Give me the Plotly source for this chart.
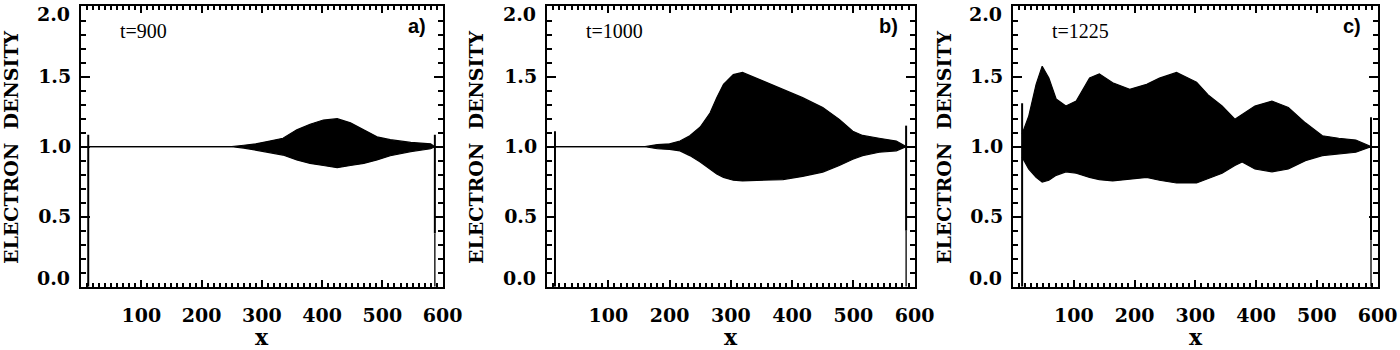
import plotly.graph_objects as go

# ---- data ----
x_a = [12, 250, 270, 290, 313, 335, 358, 380, 402, 425, 447, 469, 491, 513, 547, 580, 587, 600]
upper_a = [1.0, 1.0, 1.01, 1.02, 1.04, 1.06, 1.12, 1.16, 1.19, 1.20, 1.17, 1.12, 1.07, 1.05, 1.03, 1.02, 1.0, 1.0]
lower_a = [1.0, 1.0, 0.99, 0.975, 0.96, 0.94, 0.905, 0.88, 0.865, 0.85, 0.865, 0.88, 0.905, 0.935, 0.965, 0.985, 1.0, 1.0]

x_b = [13, 160, 180, 200, 217, 233, 250, 266, 277, 288, 304, 319, 352, 385, 417, 450, 477, 499, 515, 542, 570, 586, 600]
upper_b = [1.0, 1.0, 1.015, 1.02, 1.04, 1.078, 1.14, 1.24, 1.35, 1.445, 1.515, 1.53, 1.47, 1.41, 1.35, 1.28, 1.195, 1.11, 1.08, 1.06, 1.04, 1.0, 1.0]
lower_b = [1.0, 1.0, 0.985, 0.98, 0.97, 0.936, 0.89, 0.84, 0.805, 0.78, 0.76, 0.755, 0.76, 0.765, 0.787, 0.818, 0.865, 0.91, 0.936, 0.96, 0.97, 1.0, 1.0]

x_c = [15, 26, 38, 48, 59, 71, 87, 104, 126, 142, 164, 192, 220, 241, 269, 302, 321, 344, 365, 377, 398, 426, 453, 481, 509, 536, 564, 589, 600]
upper_c = [1.09, 1.22, 1.445, 1.575, 1.49, 1.34, 1.29, 1.326, 1.49, 1.52, 1.456, 1.41, 1.445, 1.49, 1.53, 1.46, 1.37, 1.29, 1.196, 1.23, 1.29, 1.326, 1.28, 1.17, 1.078, 1.06, 1.047, 1.0, 1.0]
lower_c = [0.925, 0.84, 0.78, 0.747, 0.76, 0.795, 0.82, 0.81, 0.78, 0.764, 0.755, 0.77, 0.78, 0.76, 0.74, 0.74, 0.77, 0.81, 0.865, 0.89, 0.84, 0.82, 0.84, 0.90, 0.936, 0.948, 0.96, 1.0, 1.0]

# boundary spikes (left and right edges of the plasma)
left_x = [12, 13, 15]
left_top = [1.085, 1.11, 1.31]
right_x = [587, 586, 589]
right_top = [1.085, 1.15, 1.21]
right_mid = [0.38, 0.40, 0.33]

times = ["t=900", "t=1000", "t=1225"]
panel_tags = ["a)", "b)", "c)"]
x_ticks = [100, 200, 300, 400, 500, 600]
y_ticks = [0.0, 0.5, 1.0, 1.5, 2.0]
y_ticklabels = ["", "0.5", "1.0", "1.5", ""]   # end labels drawn IDL-style, inset
y_end_labels = ["0.0", "2.0"]

W, H = 1400, 350
def px(xp):
    return xp / W
def py(yp):
    return 1 - yp / H

panels_px = [(81, 443), (547, 915), (1013, 1378)]
top_px, bot_px = 6, 287
ytitle_px = [11, 476, 944]

fig = go.Figure()
data = [(x_a, upper_a, lower_a), (x_b, upper_b, lower_b), (x_c, upper_c, lower_c)]
serif = "DejaVu Serif"
tick_font = dict(family=serif, size=19, color="black", weight="bold")

for i, (xs, up, lo) in enumerate(data):
    sfx = "" if i == 0 else str(i + 1)
    xa, ya = "x" + sfx, "y" + sfx
    fig.add_trace(go.Scatter(x=xs, y=lo, mode="lines", line=dict(color="black", width=1.2),
                             xaxis=xa, yaxis=ya, showlegend=False, hoverinfo="skip"))
    fig.add_trace(go.Scatter(x=xs, y=up, mode="lines", line=dict(color="black", width=1.2),
                             fill="tonexty", fillcolor="black",
                             xaxis=xa, yaxis=ya, showlegend=False, hoverinfo="skip"))
    fig.add_trace(go.Scatter(x=[left_x[i], left_x[i]], y=[0, left_top[i]], mode="lines",
                             line=dict(color="black", width=2), xaxis=xa, yaxis=ya,
                             showlegend=False, hoverinfo="skip"))
    fig.add_trace(go.Scatter(x=[right_x[i], right_x[i]], y=[0, right_mid[i]], mode="lines",
                             line=dict(color="black", width=1.3), xaxis=xa, yaxis=ya,
                             showlegend=False, hoverinfo="skip"))
    fig.add_trace(go.Scatter(x=[right_x[i], right_x[i]], y=[right_mid[i], right_top[i]], mode="lines",
                             line=dict(color="black", width=2), xaxis=xa, yaxis=ya,
                             showlegend=False, hoverinfo="skip"))

    x0, x1 = panels_px[i]
    dom_x = [px(x0), px(x1)]
    dom_y = [py(bot_px), py(top_px)]
    common = dict(showgrid=False, zeroline=False, showline=True, linecolor="black", linewidth=2,
                  mirror="allticks", ticks="inside", tickcolor="black", tickwidth=2,
                  ticklabeloverflow="allow", layer="above traces", automargin=False)
    fig.layout["xaxis" + sfx] = dict(
        domain=dom_x, range=[0, 600.5], anchor=ya, tickmode="array", tickvals=x_ticks, ticklen=7,
        tickfont=tick_font, ticklabelstandoff=10,
        minor=dict(tickmode="linear", tick0=0, dtick=10, ticklen=4, ticks="inside",
                   tickcolor="black", tickwidth=1.5, showgrid=False),
        **common)
    fig.layout["yaxis" + sfx] = dict(
        domain=dom_y, range=[-0.003, 2.005], anchor=xa, tickmode="array", tickvals=y_ticks,
        ticktext=y_ticklabels, ticklen=9,
        tickfont=tick_font, ticklabelstandoff=4,
        minor=dict(tickmode="linear", tick0=0, dtick=0.1, ticklen=5, ticks="inside",
                   tickcolor="black", tickwidth=1.5, showgrid=False),
        **common)

    fig.add_annotation(x=px(x0 - 9), y=py(278), xref="paper", yref="paper",
                       text=y_end_labels[0], showarrow=False, xanchor="right", yanchor="middle",
                       font=tick_font)
    fig.add_annotation(x=px(x0 - 9), y=py(14), xref="paper", yref="paper",
                       text=y_end_labels[1], showarrow=False, xanchor="right", yanchor="middle",
                       font=tick_font)

    fig.add_annotation(x=px(x0 + 37), y=py(31), xref="paper", yref="paper",
                       text=times[i], showarrow=False, xanchor="left", yanchor="middle",
                       font=dict(family="Liberation Serif", size=20, color="black"))
    fig.add_annotation(x=px(x1 - 15), y=py(26), xref="paper", yref="paper",
                       text=panel_tags[i], showarrow=False, xanchor="right", yanchor="middle",
                       font=dict(family="Liberation Sans", size=20, color="black", weight="bold"))
    fig.add_annotation(x=px(ytitle_px[i]), y=py(147), xref="paper", yref="paper",
                       text="ELECTRON  DENSITY", showarrow=False, textangle=-90,
                       xanchor="center", yanchor="middle",
                       font=dict(family=serif, size=19, color="black", weight="bold"))
    fig.add_annotation(x=px((x0 + x1) / 2), y=py(337), xref="paper", yref="paper",
                       text="x", showarrow=False, xanchor="center", yanchor="middle",
                       font=dict(family=serif, size=22, color="black", weight="bold"))

fig.update_layout(width=W, height=H, margin=dict(l=0, r=0, t=0, b=0, autoexpand=False),
                  paper_bgcolor="white", plot_bgcolor="white")
# remove the browser's default 8px page margin so the figure fills the window
fig.write_html("out.html", config={"displayModeBar": False},
               post_script="document.body.style.margin='0px';")
